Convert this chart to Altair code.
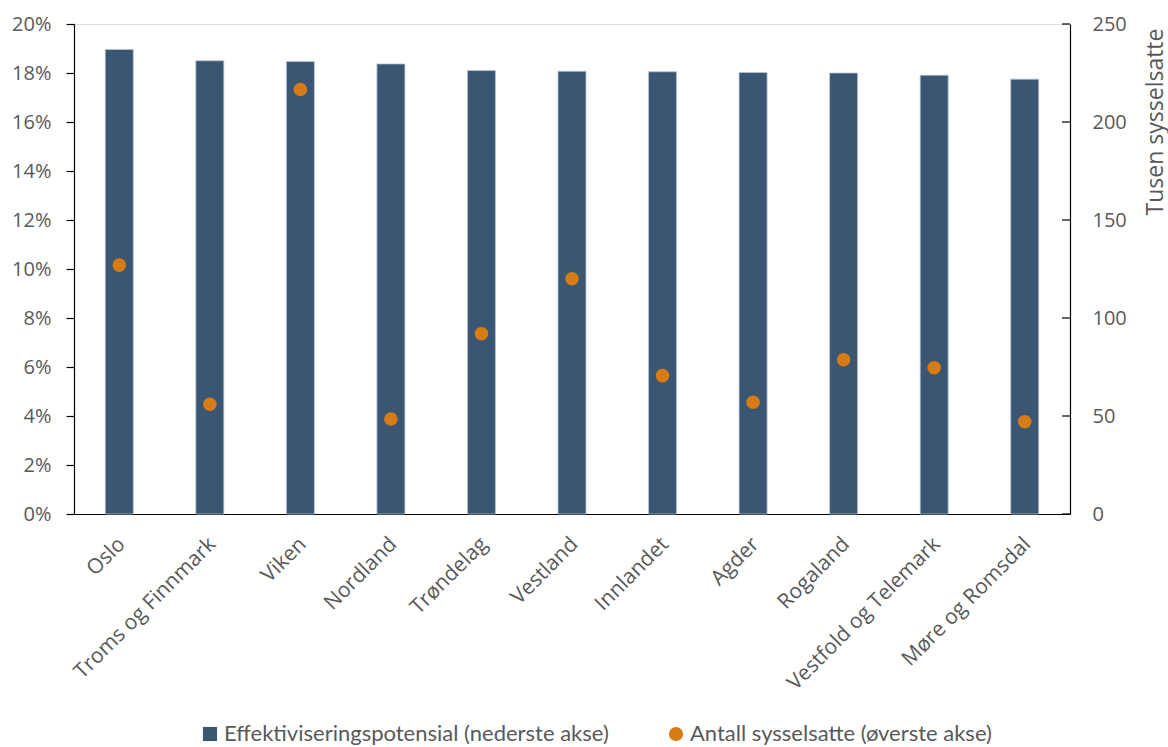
import altair as alt
import pandas as pd

regions = ["Oslo", "Troms og Finnmark", "Viken", "Nordland", "Trøndelag", "Vestland",
           "Innlandet", "Agder", "Rogaland", "Vestfold og Telemark", "Møre og Romsdal"]
potential_pct = [18.96, 18.50, 18.47, 18.37, 18.10, 18.07, 18.05, 18.02, 18.00, 17.91, 17.75]
employed_thousands = [127.0, 56.0, 216.6, 48.5, 92.0, 120.0, 70.6, 57.0, 78.7, 74.6, 47.1]
right_ticks = [0, 50, 100, 150, 200, 250]
left_ticks = [0, 0.02, 0.04, 0.06, 0.08, 0.10, 0.12, 0.14, 0.16, 0.18, 0.20]

s1 = "Effektiviseringspotensial (nederste akse)"
s2 = "Antall sysselsatte (øverste akse)"

bars_df = pd.DataFrame({"region": regions, "val": [p / 100 for p in potential_pct], "serie": s1})
pts_df = pd.DataFrame({"region": regions, "val": employed_thousands, "serie": s2})
ticks_df = pd.DataFrame({"val": right_ticks})

W, H = 996, 490
BLUE = "#3A5673"
ORANGE = "#D77B14"
GREY = "#595959"
FONT = "Open Sans"
LFONT = "Lato"

xenc = alt.X("region:N", sort=regions, title=None,
             scale=alt.Scale(paddingInner=0, paddingOuter=0),
             axis=alt.Axis(labelAngle=-45, labelAlign="right", labelBaseline="top",
                           labelFontSize=21, labelFont=FONT, labelColor=GREY,
                           labelPadding=19, labelOffset=-5, ticks=False, labelLimit=400,
                           domainColor="#000000", domainWidth=1.2))

legend_kw = dict(title=None, orient="none", direction="horizontal",
                 legendX=125, legendY=699,
                 labelFont=LFONT, labelFontSize=22,
                 labelColor=GREY, symbolSize=200, symbolStrokeWidth=0,
                 columnPadding=56, labelOffset=3, labelLimit=700)

color = alt.Color("serie:N",
                  scale=alt.Scale(domain=[s1, s2], range=[BLUE, ORANGE]),
                  legend=alt.Legend(**legend_kw))

bars = alt.Chart(bars_df).mark_bar(size=28, stroke="#b7c4d2", strokeWidth=0.8).encode(
    x=xenc,
    y=alt.Y("val:Q", title=None,
            scale=alt.Scale(domain=[0, 0.2], nice=False),
            axis=alt.Axis(orient="left", values=left_ticks, format=".0%", grid=False,
                          labelFontSize=20, labelFont=FONT, labelColor=GREY,
                          tickColor="#000000", tickSize=8, tickWidth=1.2,
                          domainColor="#000000", domainWidth=1.2, labelPadding=15)),
    color=color,
)

pts = alt.Chart(pts_df).mark_point(filled=True, size=185, opacity=1).encode(
    x=alt.X("region:N", sort=regions),
    y=alt.Y("val:Q", title="Tusen sysselsatte",
            scale=alt.Scale(domain=[0, 250], nice=False),
            axis=alt.Axis(orient="right", values=right_ticks, grid=False, ticks=False,
                          labelFontSize=20, labelFont=FONT, labelColor=GREY,
                          domainColor="#000000", domainWidth=1.2, labelPadding=22,
                          titleFont=FONT, titleFontSize=23, titleColor=GREY,
                          titleFontWeight="normal", titleAngle=270, titleAlign="right",
                          titleBaseline="middle", titleX=85, titleY=4)),
    color=color,
    shape=alt.Shape("serie:N", scale=alt.Scale(domain=[s1, s2], range=["square", "circle"]),
                    legend=alt.Legend(**legend_kw)),
)

tick_marks = alt.Chart(ticks_df).mark_rule(color="#000000", strokeWidth=1.2).encode(
    y=alt.Y("val:Q"),
    x=alt.value(W - 8),
    x2=alt.value(W),
)

right = alt.layer(pts, tick_marks)

chart = alt.layer(bars, right).resolve_scale(y="independent").properties(
    width=W, height=H,
    autosize=alt.AutoSizeParams(type="none"),
    padding={"left": 74, "top": 24, "right": 98, "bottom": 233},
).configure_view(stroke=None).configure(background="white")

chart.save("out.html", embed_options={"renderer": "svg", "actions": False})
